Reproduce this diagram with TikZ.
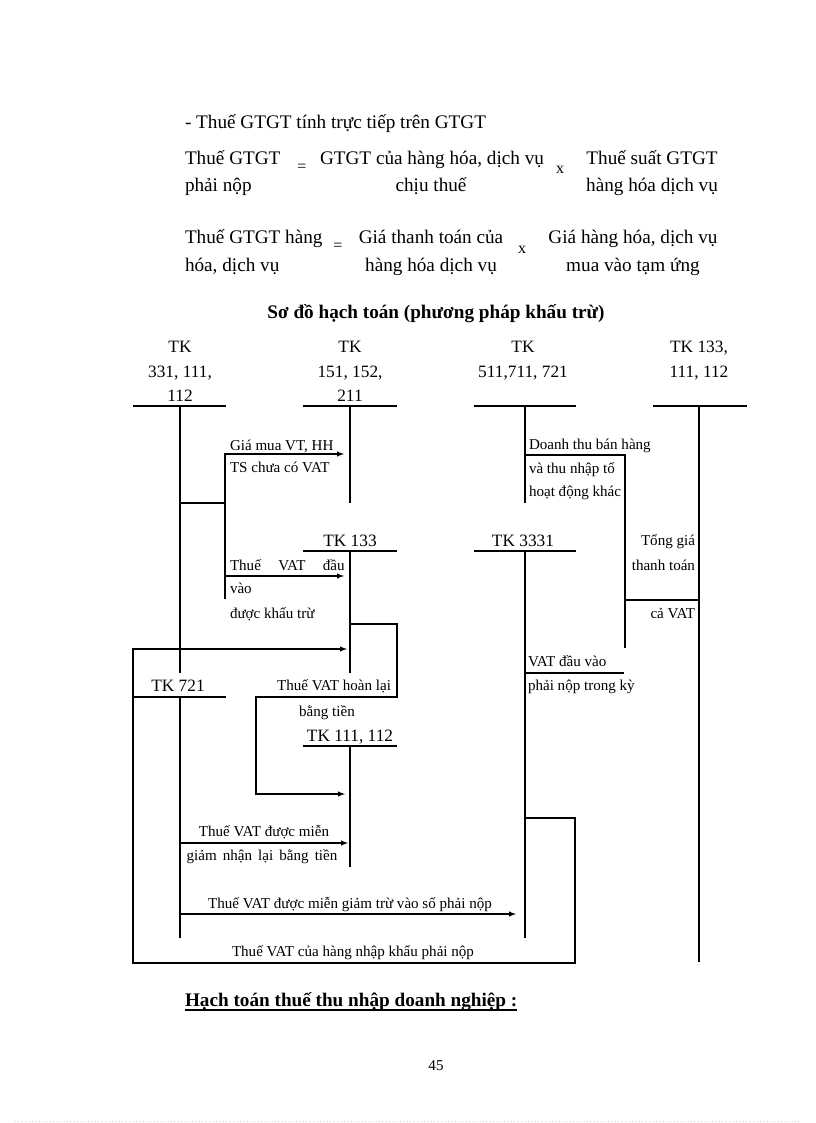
\documentclass[tikz,border=0pt]{standalone}
\usepackage{fontspec}
\setmainfont{Liberation Serif}
\usepackage{tikz}

\begin{document}
\begin{tikzpicture}[x=0.75pt,y=-0.75pt,>=latex,line width=0.8pt,
	every node/.style={inner sep=0pt,outer sep=0pt},
	big/.style={yshift=-2.2pt,font=\fontsize{14.4}{16}\selectfont},
	head/.style={yshift=-2.2pt,font=\fontsize{14.4}{16}\selectfont\bfseries},
	sign/.style={yshift=-2.2pt,font=\fontsize{12}{14}\selectfont},
	tk/.style={yshift=-1pt,font=\fontsize{13}{15}\selectfont},
	lbl/.style={font=\fontsize{11.3}{13}\selectfont}]
\useasboundingbox (0,0) rectangle (816,1123);

% formula text
\node[big,anchor=mid west] (intro) at (185,123) {- Thuế GTGT tính trực tiếp trên GTGT};
\node[big,anchor=mid west] (fa1) at (185,159) {Thuế GTGT};
\node[big,anchor=mid west] (fa2) at (185,186) {phải nộp};
\node[sign,anchor=mid] (eqa) at (302,166) {=};
\node[big,anchor=mid] (fb1) at (432,159) {GTGT của hàng hóa, dịch vụ};
\node[big,anchor=mid] (fb2) at (431,186) {chịu thuế};
\node[sign,anchor=mid] (xa) at (560,168) {x};
\node[big,anchor=mid] (fc1) at (652,159) {Thuế suất GTGT};
\node[big,anchor=mid] (fc2) at (652,186) {hàng hóa dịch vụ};

\node[big,anchor=mid west] (ga1) at (185,238) {Thuế GTGT hàng};
\node[big,anchor=mid west] (ga2) at (185,266) {hóa, dịch vụ};
\node[sign,anchor=mid] (eqb) at (338,245) {=};
\node[big,anchor=mid] (gb1) at (431,238) {Giá thanh toán của};
\node[big,anchor=mid] (gb2) at (431,266) {hàng hóa dịch vụ};
\node[sign,anchor=mid] (xb) at (522,248) {x};
\node[big,anchor=mid] (gc1) at (633,238) {Giá hàng hóa, dịch vụ};
\node[big,anchor=mid] (gc2) at (633,266) {mua vào tạm ứng};

\node[head,anchor=mid] (title) at (436,313) {Sơ đồ hạch toán (phương pháp khấu trừ)};

% account names
\node[tk,anchor=mid] (A1a) at (180,348) {TK};
\node[tk,anchor=mid] (A1b) at (180,373) {331, 111,};
\node[tk,anchor=mid] (A1c) at (180,397) {112};
\node[tk,anchor=mid] (A2a) at (350,348) {TK};
\node[tk,anchor=mid] (A2b) at (350,373) {151, 152,};
\node[tk,anchor=mid] (A2c) at (350,397) {211};
\node[tk,anchor=mid] (A3a) at (523,348) {TK};
\node[tk,anchor=mid] (A3b) at (523,373) {511,711, 721};
\node[tk,anchor=mid] (A4a) at (699,348) {TK 133,};
\node[tk,anchor=mid] (A4b) at (699,373) {111, 112};
\node[tk,anchor=mid] (A5) at (350,542) {TK 133};
\node[tk,anchor=mid] (A6) at (523,542) {TK 3331};
\node[tk,anchor=mid] (A7) at (178,687) {TK 721};
\node[tk,anchor=mid] (A8) at (350,737) {TK 111, 112};

% T accounts
\coordinate (A1l) at (133,406); \coordinate (A1r) at (226,406);
\coordinate (A1t) at (180,406); \coordinate (A1e) at (180,673);
\coordinate (A2l) at (303,406); \coordinate (A2r) at (397,406);
\coordinate (A2t) at (350,406); \coordinate (A2e) at (350,503);
\coordinate (A3l) at (474,406); \coordinate (A3r) at (576,406);
\coordinate (A3t) at (525,406); \coordinate (A3e) at (525,503);
\coordinate (A4l) at (653,406); \coordinate (A4r) at (747,406);
\coordinate (A4t) at (699,406); \coordinate (A4e) at (699,962);
\coordinate (A5l) at (303,551); \coordinate (A5r) at (397,551);
\coordinate (A5t) at (350,551); \coordinate (A5e) at (350,673);
\coordinate (A6l) at (474,551); \coordinate (A6r) at (576,551);
\coordinate (A6t) at (525,551); \coordinate (A6e) at (525,938);
\coordinate (A7l) at (133,697); \coordinate (A7r) at (226,697);
\coordinate (A7t) at (180,697); \coordinate (A7e) at (180,938);
\coordinate (A8l) at (303,746); \coordinate (A8r) at (397,746);
\coordinate (A8t) at (350,746); \coordinate (A8e) at (350,867);
\foreach \a in {A1,A2,A3,A4,A5,A6,A7,A8} {
	\draw (\a l) -- (\a r);
	\draw (\a t) -- (\a e);
}

% purchases
\coordinate (buyA) at (180,503);
\coordinate (buyJ) at (225,503);
\coordinate (buyE) at (225,599);
\coordinate (toA2) at (344,454);
\coordinate (toA5) at (344,576);
\draw (buyA) -- (buyJ) -- (buyE);
\draw[->] (buyJ) |- (toA2);
\draw[->] (buyJ) |- (toA5);
\node[lbl,anchor=mid west] (l1a) at (230,447) {Giá mua VT, HH};
\node[lbl,anchor=mid west] (l1b) at (230,469) {TS chưa có VAT};
\node[lbl,anchor=mid west] (l2a) at (230,567) {\makebox[86pt][s]{Thuế\hfill VAT\hfill đầu}};
\node[lbl,anchor=mid west] (l2b) at (230,590) {vào};
\node[lbl,anchor=mid west] (l2c) at (230,615) {được khấu trừ};

% refund in cash
\coordinate (refA) at (350,624);
\coordinate (refB) at (397,697);
\coordinate (refC) at (256,794);
\coordinate (toA8) at (345,794);
\draw[->] (refA) -| (refB) -| (refC) -- (toA8);
\node[lbl,anchor=mid east] (l3a) at (391,687) {Thuế VAT hoàn lại};
\node[lbl,anchor=mid] (l3b) at (327,713) {bằng tiền};

% sales
\coordinate (saleA) at (525,455);
\coordinate (saleB) at (625,648);
\coordinate (totA) at (699,600);
\coordinate (totB) at (625,600);
\draw (saleA) -| (saleB);
\draw (totA) -- (totB);
\node[lbl,anchor=mid west] (l4a) at (529,446) {Doanh thu bán hàng};
\node[lbl,anchor=mid west] (l4b) at (529,470) {và thu nhập tố};
\node[lbl,anchor=mid west] (l4c) at (529,493) {hoạt động khác};
\node[lbl,anchor=mid east] (l5a) at (695,542) {Tổng giá};
\node[lbl,anchor=mid east] (l5b) at (695,567) {thanh toán};
\node[lbl,anchor=mid east] (l5c) at (695,615) {cả VAT};

% VAT payable
\coordinate (payA) at (525,673);
\coordinate (payB) at (624,673);
\draw (payA) -- (payB);
\node[lbl,anchor=mid west] (l6a) at (528,663) {VAT đầu vào};
\node[lbl,anchor=mid west] (l6b) at (528,687) {phải nộp trong kỳ};

% exemptions
\coordinate (exA) at (180,843);
\coordinate (exB) at (348,843);
\coordinate (exC) at (180,914);
\coordinate (exD) at (516,914);
\draw[->] (exA) -- (exB);
\draw[->] (exC) -- (exD);
\node[lbl,anchor=mid] (l7a) at (264,833) {Thuế VAT được miễn};
\node[lbl,anchor=mid] (l7b) at (262,857) {\makebox[113pt][s]{giảm\hfill nhận\hfill lại\hfill bằng\hfill tiền}};
\node[lbl,anchor=mid] (l8) at (350,905) {Thuế VAT được miễn giảm trừ vào số phải nộp};

% import VAT
\coordinate (impA) at (525,818);
\coordinate (impB) at (575,963);
\coordinate (impC) at (133,649);
\coordinate (toA5b) at (347,649);
\draw[->] (impA) -| (impB) -| (impC) -- (toA5b);
\node[lbl,anchor=mid] (l9) at (353,953) {Thuế VAT của hàng nhập khẩu phải nộp};

% next section
\node[head,anchor=mid west] (next) at (185,1000) {Hạch toán thuế thu nhập doanh nghiệp :};
\draw ([yshift=-3pt]next.base west) -- ([yshift=-3pt]next.base east);
\node[lbl,anchor=mid] (page) at (436,1067) {45};

\draw[dotted,green!30!gray!40,line width=0.6pt] (15,1121) -- (800,1121);
\end{tikzpicture}
\end{document}
